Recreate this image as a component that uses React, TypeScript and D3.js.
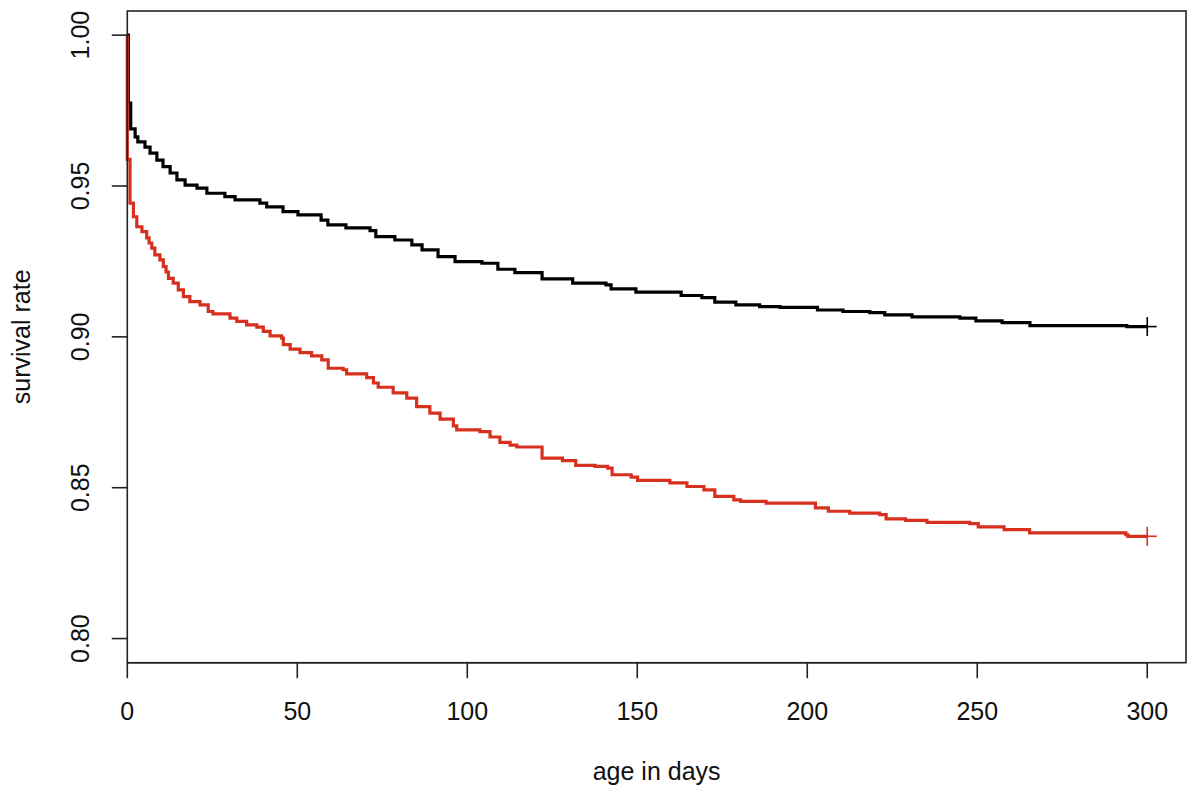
import React from "react";
import * as d3 from "d3";

// ---- data ----
const xTicks = [0, 50, 100, 150, 200, 250, 300];
const yTicks = [0.8, 0.85, 0.9, 0.95, 1.0];
const yTickLabels = ["0.80", "0.85", "0.90", "0.95", "1.00"];

const blackDays = [0, 0.3, 1.0, 2.3, 3.1, 5.2, 6.7, 8.7, 10.5, 12.6, 14.6, 17, 20.5, 23.4, 28.7, 31.7, 39, 41, 45.8, 50.2, 57, 59, 64.3, 71.4, 73.1, 78.7, 83.7, 86.7, 91.4, 96.4, 104.3, 109, 114, 122, 131, 140.8, 142.3, 149.6, 162.9, 169, 172.8, 179, 186, 192, 203, 210.5, 218.4, 222.8, 230.8, 244.9, 249.6, 257.3, 265.5, 294, 300];
const blackSurv = [1.0, 0.9775, 0.9689, 0.9663, 0.9646, 0.9629, 0.9609, 0.9586, 0.9564, 0.9543, 0.952, 0.9503, 0.9493, 0.9476, 0.9465, 0.9454, 0.9443, 0.9431, 0.9415, 0.9404, 0.9387, 0.9371, 0.9361, 0.9352, 0.9332, 0.9321, 0.9305, 0.9288, 0.9266, 0.9249, 0.9244, 0.9224, 0.9213, 0.9192, 0.9178, 0.9172, 0.9159, 0.9148, 0.9137, 0.913, 0.9115, 0.9106, 0.91, 0.9098, 0.9089, 0.9084, 0.908, 0.9073, 0.9066, 0.9062, 0.9053, 0.9047, 0.9037, 0.9034, 0.9034];

const redDays = [0, 0, 0.8, 1.8, 2.8, 4.3, 5.7, 6.4, 7.2, 8.1, 9.6, 10.6, 11.4, 12.1, 13.5, 15, 16.5, 18.4, 21.4, 23.8, 25.2, 30.2, 32.2, 35.1, 38.1, 40, 42, 45.4, 45.9, 47.9, 50.8, 54.2, 57.2, 59.1, 63.5, 64.5, 70.4, 72.4, 73.8, 78.2, 82.2, 85.1, 89, 92, 95.9, 96.9, 103.7, 106.7, 109.6, 112.6, 114.6, 122, 128, 131.9, 137.6, 141.3, 142.6, 148.2, 150.1, 159.6, 164.6, 169.6, 172.8, 178.4, 180.4, 187.9, 202.4, 206.2, 212.5, 221.3, 223.2, 228.9, 235.2, 247.8, 250.3, 257.9, 265.4, 293.7, 294.3, 300];
const redSurv = [1.0, 0.9588, 0.9443, 0.9398, 0.9365, 0.9349, 0.9328, 0.9311, 0.9294, 0.9272, 0.9255, 0.9233, 0.9215, 0.9194, 0.9178, 0.9156, 0.9133, 0.9117, 0.9106, 0.9084, 0.9076, 0.9062, 0.9051, 0.904, 0.9032, 0.9018, 0.9003, 0.8996, 0.8974, 0.8959, 0.8948, 0.8937, 0.8924, 0.8896, 0.8891, 0.8877, 0.8865, 0.8847, 0.8833, 0.8814, 0.8797, 0.8769, 0.8747, 0.8727, 0.8705, 0.8692, 0.8686, 0.8668, 0.865, 0.8641, 0.8635, 0.8598, 0.859, 0.8574, 0.8571, 0.8565, 0.8543, 0.8535, 0.8524, 0.8516, 0.8504, 0.8493, 0.8471, 0.846, 0.8455, 0.8449, 0.8433, 0.8422, 0.8416, 0.8411, 0.8397, 0.8392, 0.8385, 0.8381, 0.837, 0.8361, 0.835, 0.8344, 0.8339, 0.8339];

const xLabel = "age in days";
const yLabel = "survival rate";
const BLACK = "#000000";
const RED = "#d8301f";

export default function App() {
  const W = 1200, H = 796;
  const left = 127.3, right = 1186, top = 11, bottom = 662.7;
  const x = d3.scaleLinear().domain([0, 311.4]).range([left, right]);
  const y = d3.scaleLinear().domain([0.792, 1.008]).range([bottom, top]);

  const line = d3
    .line<[number, number]>()
    .x((d) => x(d[0]))
    .y((d) => y(d[1]))
    .curve(d3.curveStepAfter);

  const black: [number, number][] = blackDays.map((d, i) => [d, blackSurv[i]]);
  const red: [number, number][] = redDays.map((d, i) => [d, redSurv[i]]);

  const font = "'Liberation Sans', Arial, Helvetica, sans-serif";
  const fs = 25;

  const plus = (d: [number, number], color: string) => {
    const cx = x(d[0]), cy = y(d[1]);
    return (
      <g stroke={color} strokeWidth={1.6}>
        <line x1={cx - 9.5} x2={cx + 9.5} y1={cy} y2={cy} />
        <line x1={cx} x2={cx} y1={cy - 9.5} y2={cy + 9.5} />
      </g>
    );
  };

  return (
    <svg
      width={W}
      height={H}
      style={{ position: "absolute", left: 0, top: 0, background: "#fff" }}
      fontFamily={font}
    >
      <rect x={0} y={0} width={W} height={H} fill="#fff" />
      {/* curves */}
      <path d={line(black) || ""} fill="none" stroke={BLACK} strokeWidth={3.2} />
      <path d={line(red) || ""} fill="none" stroke={RED} strokeWidth={3.2} />
      {plus(black[black.length - 1], BLACK)}
      {plus(red[red.length - 1], RED)}

      {/* box */}
      <rect x={left} y={top} width={right - left} height={bottom - top} fill="none" stroke="#222" strokeWidth={1.6} />

      {/* x axis */}
      <line x1={x(xTicks[0])} x2={x(xTicks[xTicks.length - 1])} y1={bottom} y2={bottom} stroke="#222" strokeWidth={1.6} />
      {xTicks.map((t) => (
        <g key={"xt" + t}>
          <line x1={x(t)} x2={x(t)} y1={bottom} y2={bottom + 15.5} stroke="#222" strokeWidth={1.6} />
          <text x={x(t)} y={720} textAnchor="middle" fontSize={fs} fill="#111">
            {t}
          </text>
        </g>
      ))}

      {/* y axis */}
      {yTicks.map((t, i) => (
        <g key={"yt" + t}>
          <line x1={left - 15.5} x2={left} y1={y(t)} y2={y(t)} stroke="#222" strokeWidth={1.6} />
          <text
            transform={`translate(88.5,${y(t)}) rotate(-90)`}
            textAnchor="middle"
            fontSize={fs}
            fill="#111"
          >
            {yTickLabels[i]}
          </text>
        </g>
      ))}

      {/* labels */}
      <text x={(left + right) / 2} y={780} textAnchor="middle" fontSize={fs} fill="#111">
        {xLabel}
      </text>
      <text
        transform={`translate(30,${(top + bottom) / 2}) rotate(-90)`}
        textAnchor="middle"
        fontSize={fs}
        fill="#111"
      >
        {yLabel}
      </text>
    </svg>
  );
}
